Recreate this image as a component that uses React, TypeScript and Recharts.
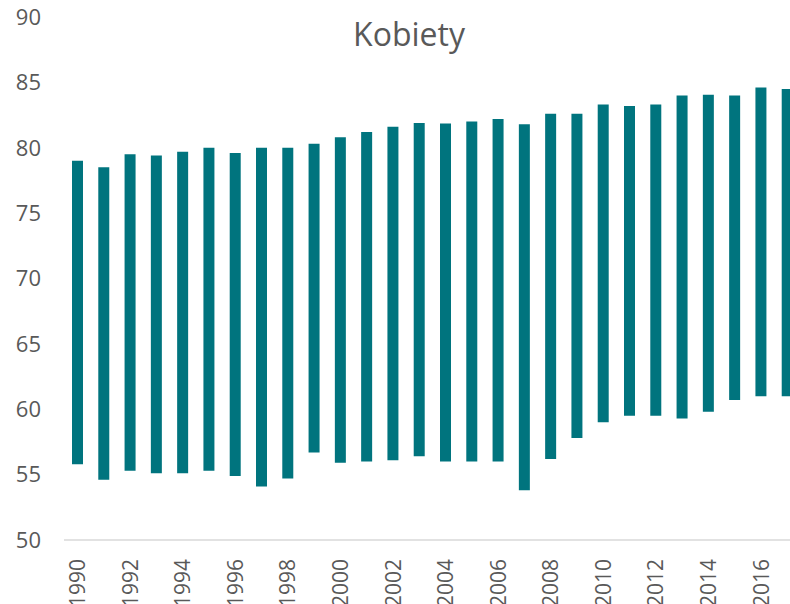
import { FC } from 'react';
import { BarChart, Bar, XAxis, YAxis } from 'recharts';

const years = [
    '1990', '1991', '1992', '1993', '1994', '1995', '1996', '1997', '1998', '1999',
    '2000', '2001', '2002', '2003', '2004', '2005', '2006', '2007', '2008', '2009',
    '2010', '2011', '2012', '2013', '2014', '2015', '2016', '2017',
];
const lowValues = [
    55.8, 54.6, 55.3, 55.1, 55.1, 55.3, 54.9, 54.1, 54.7, 56.7,
    55.9, 56.0, 56.1, 56.4, 56.0, 56.0, 56.0, 53.8, 56.2, 57.8,
    59.0, 59.5, 59.5, 59.3, 59.8, 60.7, 61.0, 61.0,
];
const highValues = [
    79.0, 78.5, 79.5, 79.4, 79.7, 80.0, 79.6, 80.0, 80.0, 80.3,
    80.8, 81.2, 81.6, 81.9, 81.85, 82.0, 82.2, 81.8, 82.6, 82.6,
    83.3, 83.2, 83.3, 84.0, 84.05, 84.0, 84.6, 84.5,
];
const yTicks = [50, 55, 60, 65, 70, 75, 80, 85, 90];

const data = years.map((year, i) => ({
    year,
    range: [lowValues[i], highValues[i]],
}));

const font = "'Open Sans', sans-serif";
const grey = '#595959';

const YearTick = (props: any) => {
    const { x, y, payload } = props;
    const ty = y + 17;
    return (
        <text
            x={x}
            y={ty}
            transform={`rotate(-90, ${x}, ${ty})`}
            textAnchor='end'
            dominantBaseline='central'
            fill={grey}
            fontSize={21}
            fontFamily={font}
        >
            {payload.value}
        </text>
    );
};

const App: FC = () => {
    return (
        <div
            style={{
                position: 'fixed',
                left: 0,
                top: 0,
                width: 790,
                height: 604,
                overflow: 'hidden',
                background: '#fff',
            }}
        >
            <BarChart
                width={800}
                height={604}
                data={data}
                margin={{ top: 17, right: 0, left: 0, bottom: 0 }}
                barCategoryGap={0}
            >
                <text
                    x={409}
                    y={46}
                    textAnchor='middle'
                    fill={grey}
                    fontSize={32}
                    fontFamily={font}
                >
                    Kobiety
                </text>
                <XAxis
                    dataKey='year'
                    interval={1}
                    height={64}
                    tick={<YearTick />}
                    tickLine={false}
                    tickSize={0}
                    axisLine={{ stroke: '#d9d9d9', strokeWidth: 1.5 }}
                />
                <YAxis
                    width={64}
                    domain={[50, 90]}
                    ticks={yTicks}
                    axisLine={false}
                    tickLine={false}
                    tickSize={0}
                    tickMargin={23}
                    tick={{ fill: grey, fontSize: 22, fontFamily: font }}
                />
                <Bar
                    dataKey='range'
                    fill='#00747e'
                    barSize={11}
                    isAnimationActive={false}
                />
            </BarChart>
        </div>
    );
};

export default App;
